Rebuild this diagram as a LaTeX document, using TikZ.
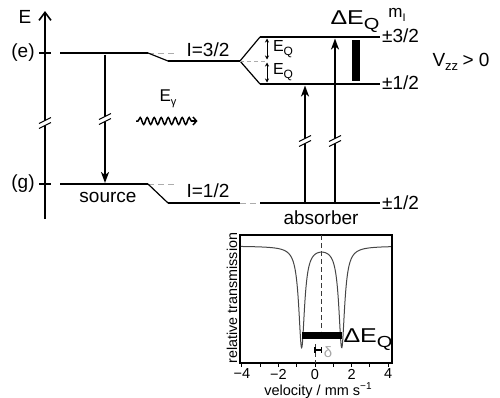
\documentclass[tikz,border=0pt]{standalone}
\usepackage{fontspec}
\setmainfont{Liberation Sans}
\usetikzlibrary{arrows.meta,decorations.pathmorphing}
\newcommand\mysub[2]{\raisebox{-0.45ex}{\fontsize{#1}{#1}\selectfont #2}}
\newcommand\mysup[2]{\raisebox{0.75ex}{\fontsize{#1}{#1}\selectfont #2}}
\begin{document}
\begin{tikzpicture}[x=1pt,y=-1pt,
  lvl/.style={line width=2.8pt},
  slant/.style={line width=1.2pt},
  gdash/.style={draw=gray!65, line width=1pt, dash pattern=on 6pt off 4pt},
  cdash/.style={draw=gray!45!black, line width=0.9pt, dash pattern=on 5pt off 3pt},
  txt/.style={font=\fontsize{19}{21}\selectfont, inner sep=0pt},
  smtxt/.style={font=\fontsize{16}{18}\selectfont, inner sep=0pt},
  ticktxt/.style={font=\fontsize{14.5}{16}\selectfont, inner sep=0pt},
  uparr/.style={line width=1.7pt, -{Stealth[length=11pt,width=8pt,inset=3pt]}},
  eqarr/.style={line width=0.9pt, {Stealth[length=4pt,width=4pt]}-{Stealth[length=4pt,width=4pt]}},
  brk/.pic={
    \fill[white] (-6,5.5) -- (6,-0.5) -- (6,-5.5) -- (-6,0.5) -- cycle;
    \draw[line width=1pt] (-6,5.5) -- (6,-0.5);
    \draw[line width=1pt] (-6,0.5) -- (6,-5.5);
  }
]
\useasboundingbox (0,0) rectangle (500,397);

% ---------- coordinates ----------
\coordinate (axB) at (45,219);
\coordinate (axT) at (45,11);
\coordinate (eT1) at (39,53);  \coordinate (eT2) at (51,53);
\coordinate (gT1) at (39,184); \coordinate (gT2) at (51,184);
\coordinate (sE1) at (60,53);  \coordinate (sE2) at (148,53);  \coordinate (sEd) at (175,53);
\coordinate (sG1) at (60,184); \coordinate (sG2) at (148,184); \coordinate (sGd) at (175,184);
\coordinate (aE1) at (168,61); \coordinate (aE2) at (240,61);  \coordinate (mid) at (267,61);
\coordinate (aG1) at (168,203);\coordinate (aG2) at (240,203); \coordinate (aGd) at (259,203);
\coordinate (u1) at (260,37);  \coordinate (u2) at (380,37);
\coordinate (l1) at (260,84);  \coordinate (l2) at (380,84);
\coordinate (gA1) at (260,203);\coordinate (gA2) at (380,203);
\coordinate (eqa) at (267,38.5); \coordinate (eqb) at (267,59.5);
\coordinate (eqc) at (267,62.5); \coordinate (eqd) at (267,82.5);
\coordinate (srcT) at (105,54.5); \coordinate (srcB) at (105,183);
\coordinate (ar1B) at (305,202); \coordinate (ar1T) at (305,85.5);
\coordinate (ar2B) at (335,202); \coordinate (ar2T) at (335,38.5);
\coordinate (wv1) at (136,121); \coordinate (wv2) at (196,121);

% ---------- energy axis ----------
\draw[line width=1.6pt, -{Straight Barb[length=8pt,width=12pt]}] (axB) -- (axT);
\draw[line width=1.3pt] (eT1) -- (eT2);
\draw[line width=1.3pt] (gT1) -- (gT2);
\node[txt] (Elab) at (25,17) {E};
\node[txt] (elab) at (23,53) {(e)};
\node[txt] (glab) at (23,184) {(g)};

% ---------- source levels ----------
\draw[lvl] (sE1) -- (sE2);
\draw[lvl] (sG1) -- (sG2);
\draw[gdash] (sE2) -- (sEd);
\draw[gdash] (sG2) -- (sGd);
\draw[slant] (sE2) -- (aE1);
\draw[slant] (sG2) -- (aG1);
\node[txt] (src) at (108,197) {source};

% ---------- absorber levels ----------
\draw[lvl] (aE1) -- (aE2);
\draw[lvl] (aG1) -- (aG2);
\draw[gdash] (aG2) -- (aGd);
\node[txt] (I32) at (208,50) {I=3/2};
\node[txt] (I12) at (208,191) {I=1/2};
\draw[slant] (aE2) -- (u1);
\draw[slant] (aE2) -- (l1);
\draw[gdash, dash pattern=on 4pt off 3pt] (aE2) -- (mid);
\draw[lvl] (u1) -- (u2);
\draw[lvl] (l1) -- (l2);
\draw[lvl] (gA1) -- (gA2);
\node[txt] (abs) at (321,218) {absorber};
\node[txt, anchor=west] (p32) at (382,36) {±3/2};
\node[txt, anchor=west] (p12a) at (382,83) {±1/2};
\node[txt, anchor=west] (p12b) at (382,203) {±1/2};
\node[font=\fontsize{17}{19}\selectfont, inner sep=0pt] (mI) at (397,15) {m\mysub{11}{I}};
\node[txt] (Vzz) at (461,62) {V\mysub{13}{zz} \kern-1pt> 0};

% E_Q
\draw[eqarr] (eqa) -- (eqb);
\draw[eqarr] (eqc) -- (eqd);
\node[smtxt] (EQ1) at (283,49) {E\mysub{12}{Q}};
\node[smtxt] (EQ2) at (283,72) {E\mysub{12}{Q}};
\node[font=\fontsize{20}{22}\selectfont, inner sep=0pt] (dEQ) at (355,22) {\scalebox{1.25}[1]{ΔE\mysub{16}{Q}}};
\fill (352,40) rectangle (360,81);

% transitions
\draw[uparr] (srcT) -- (srcB);
\draw[uparr] (ar1B) -- (ar1T);
\draw[uparr] (ar2B) -- (ar2T);
\pic at (45,123) {brk};
\pic at (105,119) {brk};
\pic at (305,141) {brk};
\pic at (335,141) {brk};

% gamma
\node[font=\fontsize{17}{19}\selectfont, inner sep=0pt] (Eg) at (168,99) {E\mysub{11}{γ}};
\draw[line width=1.5pt, decorate, decoration={snake, amplitude=3.5pt, segment length=7pt, pre length=2pt, post length=4pt}] (wv1) -- (wv2);
\draw[line width=1.5pt, -{Straight Barb[length=3.5pt,width=8pt]}] ([xshift=-4pt]wv2) -- ([xshift=1.5pt]wv2);

% ---------- spectrum ----------
\draw[line width=1.2pt] (240,235) rectangle (392,363);
\foreach \v in {-4,-3,...,4}
  \draw[line width=1pt] ({315+18.3*\v},363) -- ({315+18.3*\v},367);
\node[ticktxt] (tm4) at ({315-18.3*4},374) {−4};
\node[ticktxt] (tm2) at ({315-18.3*2},374) {−2};
\node[ticktxt] (t0) at (315,374) {0};
\node[ticktxt] (t2) at ({315+18.3*2},374) {2};
\node[ticktxt] (t4) at ({315+18.3*4},374) {4};
\node[ticktxt] (xlab) at (318,390.5) {velocity / mm s\mysup{10}{−1}};
\node[font=\fontsize{14.3}{16}\selectfont, inner sep=0pt, rotate=90] (ylab) at (232,298) {relative transmission};

\draw[cdash] (321.7,235) -- (321.7,331);
\draw[cdash] (315,344) -- (315,363);
\draw[gray!55!black, line width=1pt] plot[domain=-4.05:4.15, samples=500]
  ({315+18.3*\x},{246+101*(0.0374/((\x+0.73)*(\x+0.73)+0.0374)+0.0374/((\x-1.46)*(\x-1.46)+0.0374))});
\fill (302,331.5) rectangle (342,339);
\draw[line width=1.1pt] (315,350) -- (321.7,350);
\draw[line width=1.1pt] (315,347) -- (315,353);
\draw[line width=1.1pt] (321.7,347) -- (321.7,353);
\node[font=\fontsize{15}{17}\selectfont, text=gray!70, inner sep=0pt] (dl) at (328,352) {δ};
\node[font=\fontsize{20}{22}\selectfont, inner sep=0pt] (dEQ2) at (368,340) {\scalebox{1.25}[1]{ΔE\mysub{16}{Q}}};
\end{tikzpicture}
\end{document}
